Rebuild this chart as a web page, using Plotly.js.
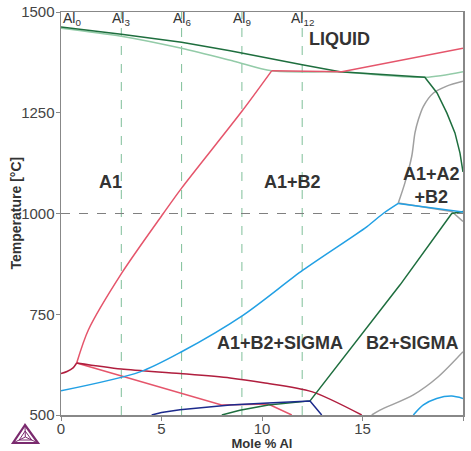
<!DOCTYPE html>
<html><head><meta charset="utf-8">
<script src="https://cdn.plot.ly/plotly-3.0.1.min.js"></script>
<style>body{margin:0;padding:0;background:#fff}#c{width:471px;height:451px}</style>
</head><body><div id="c"></div>
<script>
// ---- data (x = mole % Al, T = temperature °C) ----
const liqDarkX = [0, 3, 6, 8.41, 12.0, 13.88, 18.1, 18.71, 19.2, 19.6, 19.85, 20];
const liqDarkT = [1463, 1445, 1425, 1404, 1369, 1352, 1338, 1299, 1249, 1200, 1150, 1103];
const liqLightX = [0, 3, 6, 8.6, 10.48, 13.9, 18.1, 20];
const liqLightT = [1460, 1440, 1410, 1378, 1354, 1351, 1338, 1352];
const a1b2X = [0.78, 1.36, 3.02, 5.09, 6.0, 8.99, 10.48];
const a1b2T = [629, 711, 852, 1000, 1063, 1253, 1354];
const liqRedX = [10.48, 13.97, 20];
const liqRedT = [1354, 1352, 1410];
const crimsonLeftX = [0, 0.3, 0.6, 0.78];
const crimsonLeftT = [603, 608, 617, 629];
const crimsonX = [0.78, 3.0, 5.92, 8.41, 10.07, 12.47, 14.96];
const crimsonT = [629, 614, 603, 592, 580, 558, 500];
const pinkLowX = [0.78, 7.99, 10.31, 11.48];
const pinkLowT = [629, 525, 527, 500];
const navyX = [4.51, 5.0, 5.92, 7.0, 8.41, 10.3, 12.39, 12.97];
const navyT = [500, 506, 513, 519, 525, 530, 535, 500];
const b2SigX = [8.0, 8.9, 10.31, 12.39, 16.87, 19.44, 20];
const b2SigT = [500, 512, 525, 535, 823, 1000, 1005];
const blueX = [0, 3.93, 6.0, 9.07, 12.05, 15.21, 16.03, 16.78];
const blueT = [560, 607, 657, 748, 860, 967, 1000, 1025];
const blueTopX = [16.78, 20];
const blueTopT = [1025, 1004];
const gray1X = [16.78, 17.11, 17.45, 17.61, 17.78, 18.03, 18.53, 19.19, 20];
const gray1T = [1026, 1076, 1142, 1200, 1233, 1266, 1299, 1316, 1328];
const gray2X = [16.78, 19.44, 20];
const gray2T = [1026, 1005, 980];
const gray3X = [15.46, 15.87, 17.53, 18.77, 20];
const gray3T = [500, 512, 550, 595, 657];
const blue2X = [17.53, 18.03, 18.69, 19.44, 20];
const blue2T = [500, 525, 541, 547, 541];

const alPositions = [0, 3, 6, 9, 12];
const alLabels = ['Al<sub>0</sub>', 'Al<sub>3</sub>', 'Al<sub>6</sub>', 'Al<sub>9</sub>', 'Al<sub>12</sub>'];
const refTemp = 1000;
const xTicks = [0, 5, 10, 15, 20];
const yTicks = [500, 750, 1000, 1250, 1500];
const regionNames = ['LIQUID', 'A1', 'A1+B2', 'A1+A2<br>+B2', 'A1+B2+SIGMA', 'B2+SIGMA'];
const regionX = [13.85, 2.44, 11.5, 18.45, 10.9, 17.5];
const regionT = [1434, 1077, 1077, 1070, 679, 679];
const xTitle = 'Mole % Al';
const yTitle = 'Temperature [°C]';

// ---- colours ----
const C = {dark:'#1e6e3e', light:'#93cba8', red:'#e5556b', crimson:'#b01e3e', navy:'#1c2a8c', blue:'#22a0e4', gray:'#a0a0a0'};

function ln(x, y, color, shape, w){
  return {x:x, y:y, type:'scatter', mode:'lines', hoverinfo:'skip', showlegend:false,
    line:{color:color, width:w||1.5, shape:shape||'linear', smoothing:0.8}};
}
const traces = [];
alPositions.slice(1).forEach(p => traces.push({x:[p,p], y:[500,1500], type:'scatter', mode:'lines', hoverinfo:'skip', showlegend:false, line:{color:'#7fbf99', width:1, dash:'dash'}}));
traces.push({x:[0,20], y:[refTemp, refTemp], type:'scatter', mode:'lines', hoverinfo:'skip', showlegend:false, line:{color:'#808080', width:1, dash:'dash'}});

traces.push(ln(liqLightX, liqLightT, C.light, 'spline'));
traces.push(ln(gray1X, gray1T, C.gray, 'spline'));
traces.push(ln(gray2X, gray2T, C.gray));
traces.push(ln(gray3X, gray3T, C.gray, 'spline'));
traces.push(ln(liqDarkX, liqDarkT, C.dark, 'linear'));
traces.push(ln(a1b2X, a1b2T, C.red, 'spline'));
traces.push(ln(liqRedX, liqRedT, C.red));
traces.push(ln(pinkLowX, pinkLowT, C.red));
traces.push(ln(crimsonLeftX, crimsonLeftT, C.crimson, 'spline'));
traces.push(ln(crimsonX, crimsonT, C.crimson, 'spline'));
traces.push(ln(b2SigX, b2SigT, C.dark));
traces.push(ln(navyX, navyT, C.navy));
traces.push(ln(blueX, blueT, C.blue, 'spline'));
traces.push(ln(blueTopX, blueTopT, C.blue));
traces.push(ln(blue2X, blue2T, C.blue, 'spline'));

const ann = [];
alPositions.forEach((p,i) => ann.push({x:p, y:1482, xref:'x', yref:'y', text:alLabels[i], showarrow:false,
  xanchor: i===0 ? 'left' : 'center', font:{family:'Liberation Sans, Arial, sans-serif', size:14, color:'#333'}}));
regionNames.forEach((n,i) => ann.push({x:regionX[i], y:regionT[i], xref:'x', yref:'y', text:'<b>'+n+'</b>', showarrow:false,
  font:{family:'Liberation Sans, Arial, sans-serif', size:18, color:'#333'}}));
// y-axis title placed close to tick labels as in the reference
ann.push({x:-0.1144, y:0.5, xref:'paper', yref:'paper', text:'<b>'+yTitle+'</b>', textangle:-90, showarrow:false,
  xanchor:'center', yanchor:'middle', font:{family:'Liberation Sans, Arial, sans-serif', size:14, color:'#333'}});

const ax=-0.0896, ay=-0.0248, blx=-0.1194, bly=-0.0695, brx=-0.0572, bry=-0.0695, cx=-0.0887, cy=-0.0546;
const logoColor = '#7a2a6e';
const shapes = [
  {type:'path', xref:'paper', yref:'paper', path:`M${ax},${ay} L${blx},${bly} L${brx},${bry} Z`, line:{color:logoColor, width:2.2}},
  {type:'path', xref:'paper', yref:'paper', path:`M${ax},${ay} L${cx},${cy} M${blx},${bly} L${cx},${cy} M${brx},${bry} L${cx},${cy}`, line:{color:logoColor, width:1}},
  {type:'path', xref:'paper', yref:'paper', path:`M${(ax+cx)/2},${(ay+cy)/2} L${(blx+cx)/2},${(bly+cy)/2} L${(brx+cx)/2},${(bry+cy)/2} Z`, line:{color:logoColor, width:1}}
];

const layout = {
  width:471, height:451, margin:{l:61, r:8, t:12, b:36},
  paper_bgcolor:'#fff', plot_bgcolor:'#fff', showlegend:false,
  font:{family:'Liberation Sans, Arial, sans-serif', color:'#333'},
  xaxis:{range:[0,20], tickvals:xTicks, ticks:'outside', ticklen:4, tickcolor:'#888', showgrid:false, zeroline:false,
    showline:true, linecolor:'#888', linewidth:1.5, mirror:true, tickfont:{size:15, color:'#444'}, ticklabelstandoff:-5,
    title:{text:'<b>'+xTitle+'</b>', font:{size:13, color:'#333'}, standoff:6}},
  yaxis:{range:[500,1500], tickvals:yTicks, ticks:'outside', ticklen:4, tickcolor:'#888', showgrid:false, zeroline:false,
    showline:true, linecolor:'#888', linewidth:1.5, mirror:true, tickfont:{size:15, color:'#444'}, ticklabelstandoff:-2,
    automargin:false},
  annotations:ann, shapes:shapes
};
Plotly.newPlot('c', traces, layout, {staticPlot:true, displayModeBar:false});
</script></body></html>
